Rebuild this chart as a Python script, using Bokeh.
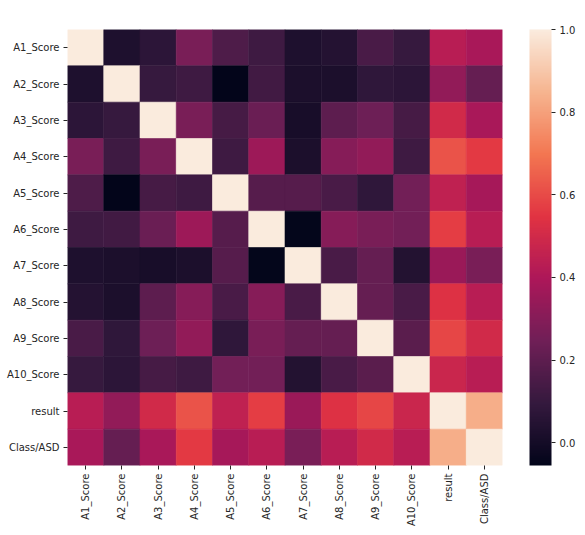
import numpy as np
from bokeh.plotting import figure
from bokeh.models import (LinearColorMapper, ColorBar, FixedTicker,
                          ColumnDataSource, PrintfTickFormatter)
from bokeh.embed import file_html
from bokeh.resources import INLINE

labels = ["A1_Score", "A2_Score", "A3_Score", "A4_Score", "A5_Score",
          "A6_Score", "A7_Score", "A8_Score", "A9_Score", "A10_Score",
          "result", "Class/ASD"]

row_a1 = [1.00, 0.03, 0.07, 0.27, 0.16, 0.12, 0.03, 0.045, 0.15, 0.10, 0.43, 0.39]
row_a2 = [0.03, 1.00, 0.10, 0.12, -0.055, 0.13, 0.02, 0.02, 0.08, 0.07, 0.33, 0.22]
row_a3 = [0.07, 0.10, 1.00, 0.27, 0.14, 0.23, 0.007, 0.20, 0.24, 0.14, 0.50, 0.39]
row_a4 = [0.27, 0.12, 0.27, 1.00, 0.12, 0.36, 0.02, 0.30, 0.33, 0.12, 0.62, 0.56]
row_a5 = [0.16, -0.055, 0.14, 0.12, 1.00, 0.18, 0.18, 0.15, 0.08, 0.25, 0.45, 0.38]
row_a6 = [0.12, 0.13, 0.23, 0.36, 0.18, 1.00, -0.05, 0.30, 0.27, 0.25, 0.57, 0.43]
row_a7 = [0.03, 0.02, 0.007, 0.02, 0.18, -0.05, 1.00, 0.15, 0.22, 0.04, 0.35, 0.27]
row_a8 = [0.045, 0.02, 0.20, 0.30, 0.15, 0.30, 0.15, 1.00, 0.22, 0.15, 0.535, 0.43]
row_a9 = [0.15, 0.08, 0.24, 0.33, 0.08, 0.27, 0.22, 0.22, 1.00, 0.19, 0.59, 0.50]
row_a10 = [0.10, 0.07, 0.14, 0.12, 0.25, 0.25, 0.04, 0.15, 0.19, 1.00, 0.48, 0.43]
row_result = [0.43, 0.33, 0.50, 0.62, 0.45, 0.57, 0.35, 0.535, 0.59, 0.48, 1.00, 0.835]
row_class = [0.39, 0.22, 0.39, 0.56, 0.38, 0.43, 0.27, 0.43, 0.50, 0.43, 0.835, 1.00]

rows = [row_a1, row_a2, row_a3, row_a4, row_a5, row_a6, row_a7, row_a8,
        row_a9, row_a10, row_result, row_class]

# approximate seaborn "rocket" colormap
anchors = ["#03051A", "#35193E", "#701F57", "#AD1759", "#E13342",
           "#F37651", "#F6B48F", "#FAEBDD"]
pos = np.linspace(0, 1, len(anchors))
rgb = np.array([[int(h[i:i + 2], 16) for i in (1, 3, 5)] for h in anchors], float)
tt = np.linspace(0, 1, 256)
palette = []
for t in tt:
    c = [np.interp(t, pos, rgb[:, k]) for k in range(3)]
    palette.append("#%02x%02x%02x" % tuple(int(round(v)) for v in c))

xs, ys, vals = [], [], []
for i, r in enumerate(rows):
    for j, v in enumerate(r):
        xs.append(labels[j])
        ys.append(labels[i])
        vals.append(v)

vmin = min(vals)
mapper = LinearColorMapper(palette=palette, low=vmin, high=1.0)
src = ColumnDataSource(dict(x=xs, y=ys, val=vals))

p = figure(x_range=labels, y_range=list(reversed(labels)),
           frame_width=435, frame_height=436,
           output_backend="svg", toolbar_location=None,
           min_border_left=67, min_border_top=29, min_border_right=5,
           min_border_bottom=5)
p.rect(x="x", y="y", width=1, height=1, source=src,
       fill_color={"field": "val", "transform": mapper},
       line_color={"field": "val", "transform": mapper}, line_width=0.6)

p.outline_line_color = None
p.grid.grid_line_color = None
for ax in (p.xaxis, p.yaxis):
    ax.axis_line_color = None
    ax.major_tick_line_color = "#262626"
    ax.major_tick_out = 4
    ax.major_tick_in = 0
    ax.minor_tick_line_color = None
    ax.major_label_text_font = "DejaVu Sans"
    ax.major_label_text_font_size = "10px"
    ax.major_label_text_color = "#262626"
    ax.major_label_standoff = 4
p.xaxis.major_label_orientation = np.pi / 2

cb = ColorBar(color_mapper=mapper,
              ticker=FixedTicker(ticks=[0.0, 0.2, 0.4, 0.6, 0.8, 1.0]),
              formatter=PrintfTickFormatter(format="%.1f"),
              width=22, height=436, padding=0, margin=0,
              location=(27, 0),
              major_label_text_font="DejaVu Sans",
              major_label_text_font_size="10px",
              major_label_text_color="#262626",
              major_tick_line_color="#262626",
              major_tick_out=4, major_tick_in=0,
              label_standoff=4,
              bar_line_color=None, border_line_color=None,
              background_fill_color=None)
p.add_layout(cb, "right")

open("out.html", "w").write(file_html(p, INLINE))
